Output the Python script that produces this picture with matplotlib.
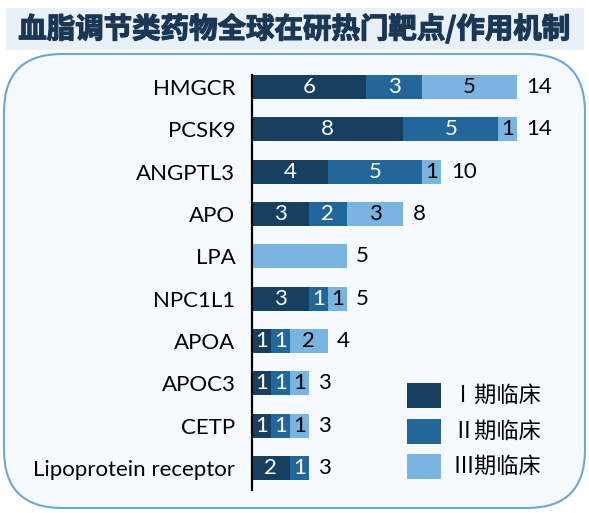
import numpy as np
import matplotlib
matplotlib.use("Agg")
import matplotlib.pyplot as plt
import matplotlib.patheffects as pe
from matplotlib.patches import FancyBboxPatch, Rectangle

plt.rcParams['font.family'] = ['Lato', 'Noto Sans CJK SC', 'DejaVu Sans']

# data
targets = ["HMGCR", "PCSK9", "ANGPTL3", "APO", "LPA", "NPC1L1",
           "APOA", "APOC3", "CETP", "Lipoprotein receptor"]
phase1 = [6, 8, 4, 3, 0, 3, 1, 1, 1, 2]
phase2 = [3, 5, 5, 2, 0, 1, 1, 1, 1, 1]
phase3 = [5, 1, 1, 3, 5, 1, 2, 1, 1, 0]
phase_names = ["Ⅰ期临床", "Ⅱ期临床", "Ⅲ期临床"]
colors = ["#163f60", "#23679a", "#7ab5e2"]
text_colors = ["white", "white", "black"]
title = "血脂调节类药物全球在研热门靶点/作用机制"

W, H = 589, 513
fig = plt.figure(figsize=(W / 100, H / 100), dpi=100)

# background layer in pixel coords
bg = fig.add_axes([0, 0, 1, 1], zorder=0)
bg.set_xlim(0, W)
bg.set_ylim(H, 0)
bg.axis("off")
bg.add_patch(Rectangle((6, 8), 578, 42, facecolor="#e9f0f8", edgecolor="none"))
title_color = "#1a3756"
bg.text(W / 2, 29, title, ha="center", va="center", fontsize=20.5, fontweight="bold",
        color=title_color, family=["Noto Sans CJK SC", "DejaVu Sans"],
        path_effects=[pe.withStroke(linewidth=0.9, foreground=title_color)])
bg.add_patch(FancyBboxPatch((4, 54), 581, 454, boxstyle="round,pad=0,rounding_size=58",
                            facecolor="#f6f9fd", edgecolor="#6fa6d8", linewidth=1.5))

# legend drawn by hand
for i, (name, c) in enumerate(zip(phase_names, colors)):
    y0 = 383 + i * 35.5
    bg.add_patch(Rectangle((407, y0), 34, 25, facecolor=c, edgecolor="none"))
    bg.text(452, y0 + 12.5, name, ha="left", va="center", fontsize=16, color="black",
            family=["Noto Sans CJK SC", "DejaVu Sans"])

# bar chart
ax = fig.add_axes([252 / W, 23 / H, 308 / W, 415 / H], zorder=1)
ax.patch.set_alpha(0)
y = np.arange(len(targets))
totals = np.array(phase1) + np.array(phase2) + np.array(phase3)
left = np.zeros(len(targets))
for vals, c, tc in zip([phase1, phase2, phase3], colors, text_colors):
    vals = np.array(vals)
    ax.barh(y, vals, left=left, height=0.57, color=c)
    for yi, v, l, t in zip(y, vals, left, totals):
        # a bar made of one phase only gets no inner label
        if v > 0 and v < t:
            ax.text(l + v / 2, yi, str(v), ha="center", va="center", fontsize=16, color=tc)
    left = left + vals
for yi, tot in zip(y, totals):
    ax.text(tot + 0.5, yi, str(int(tot)), ha="left", va="center", fontsize=16, color="black")

ax.set_xlim(0, 308 / 18.93)
ax.set_ylim(9.52, -0.284)
ax.set_yticks(y)
ax.set_yticklabels(targets, fontsize=16)
ax.tick_params(axis="y", length=0, pad=12)
ax.set_xticks([])
for s in ["top", "right", "bottom"]:
    ax.spines[s].set_visible(False)
ax.spines["left"].set_linewidth(1.6)
ax.spines["left"].set_color("black")

fig.savefig("out.png", dpi=100)
